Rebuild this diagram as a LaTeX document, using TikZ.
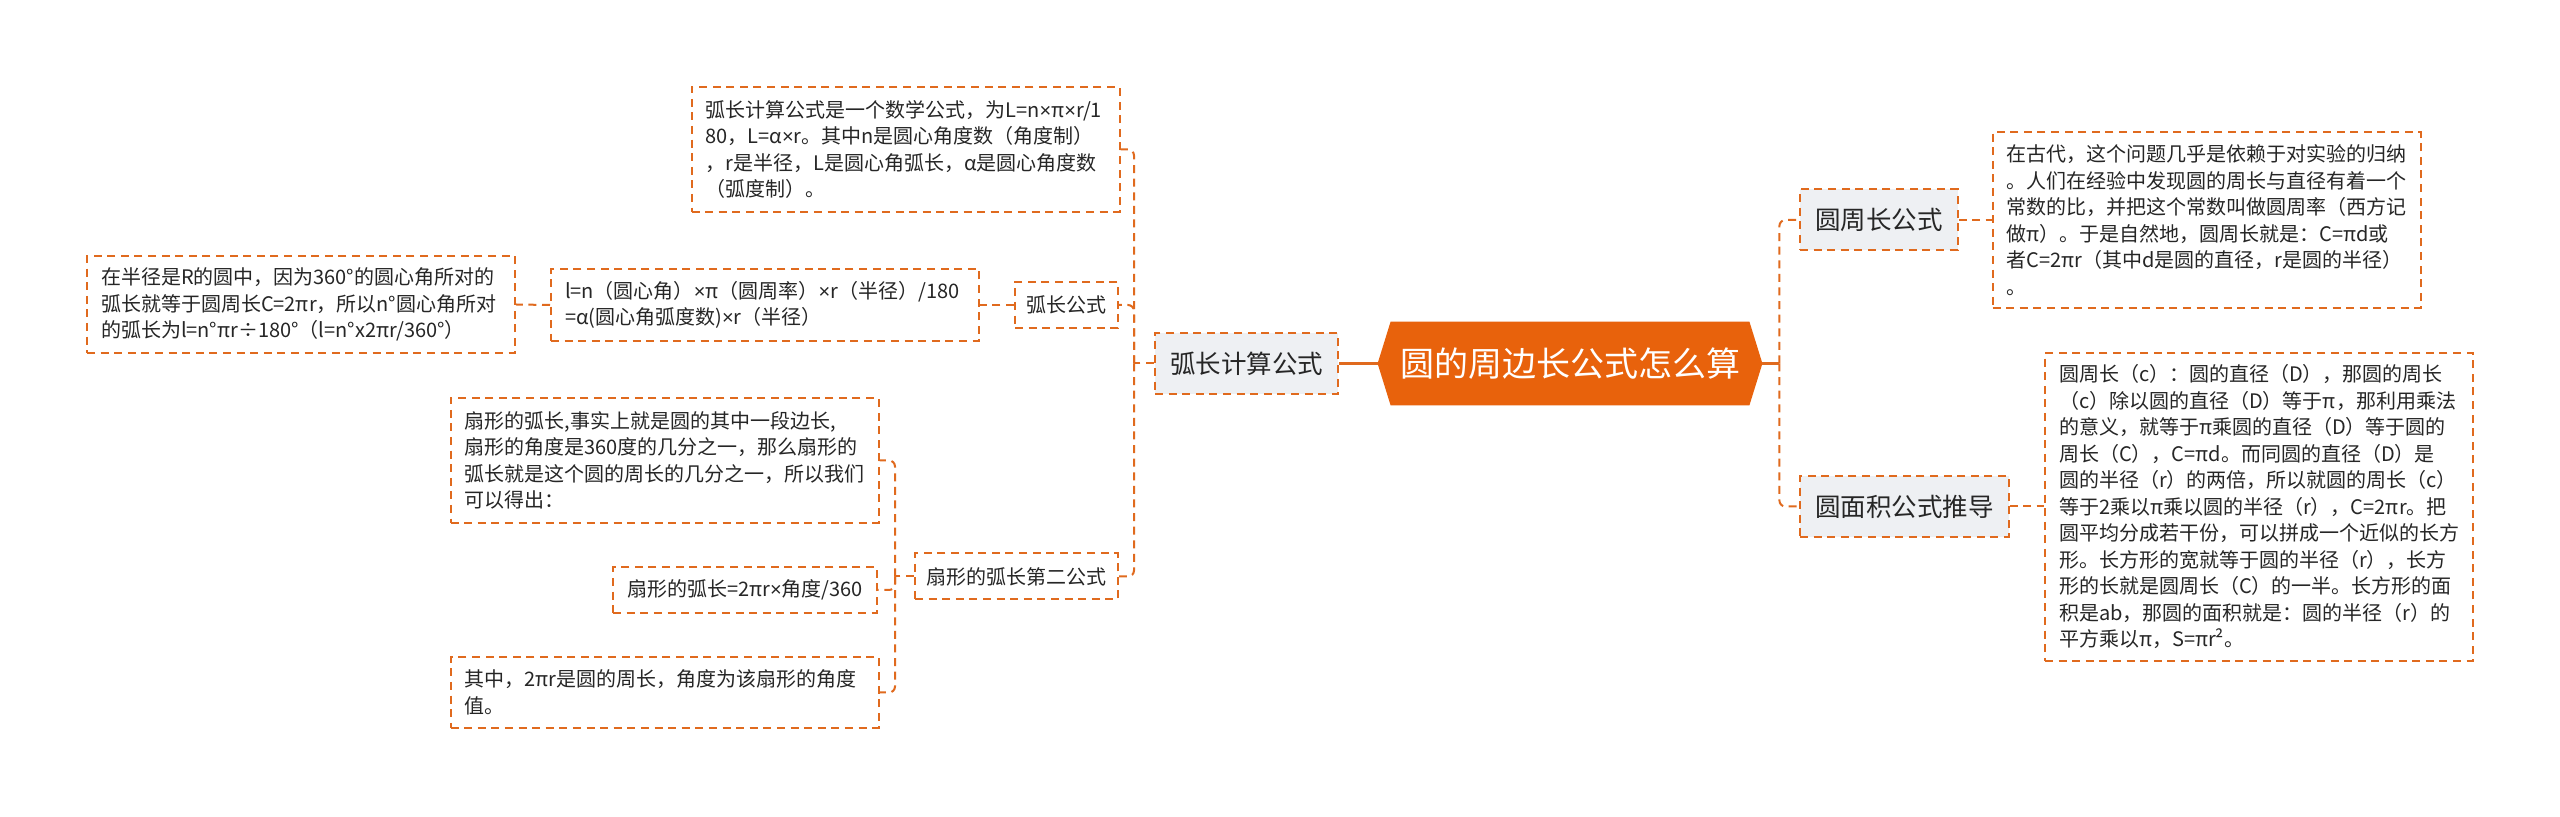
\documentclass[tikz,border=0pt]{standalone}
\usepackage{fontspec}
\setmainfont{Noto Sans CJK SC}
\newfontfamily\latf{Liberation Sans}
\newcommand{\tms}{{\latf ×}}
\usetikzlibrary{calc}
\definecolor{ocol}{HTML}{E06A1E}
\definecolor{rootcol}{HTML}{E8620C}
\definecolor{lonefill}{HTML}{EEF0F3}
\definecolor{tcol}{HTML}{262626}
\tikzset{
  dashbox/.style={draw=ocol, line width=1pt, dash pattern=on 4pt off 2.8pt},
  leaf/.style={dashbox, fill=white, text=tcol, font=\fontsize{10}{13.25}\selectfont,
    align=left, text width=200pt, inner xsep=7pt, inner ysep=0pt},
  leafone/.style={dashbox, fill=white, text=tcol, font=\fontsize{10}{13.25}\selectfont,
    inner xsep=7pt, inner ysep=0pt, minimum height=23pt},
  lvltwo/.style={dashbox, fill=white, text=tcol, font=\fontsize{10}{12}\selectfont,
    inner xsep=5.75pt, inner ysep=0pt, minimum height=23pt},
  lvlone/.style={dashbox, fill=lonefill, text=tcol, font=\fontsize{12.75}{15}\selectfont,
    inner xsep=7.5pt, inner ysep=0pt, minimum height=30.5pt},
  conn/.style={draw=ocol, line width=1pt, dash pattern=on 4pt off 2.8pt, rounded corners=3pt},
  rootlink/.style={draw=ocol, line width=1.5pt},
  rootbox/.style={minimum width=192pt, minimum height=41.5pt, inner sep=0pt},
  roottext/.style={text=white, font=\fontsize{17}{20}\selectfont, inner sep=0pt}
}
\begin{document}
\begin{tikzpicture}[x=0.5pt,y=-0.5pt]
\useasboundingbox[fill=white] (0,0) rectangle (2560,817);

% root
\node[rootbox] (root) at (1570,363.5) {};
\fill[rootcol] (root.west) -- ($(root.north west)+(13,0)$) -- ($(root.north east)+(-13,0)$)
  -- (root.east) -- ($(root.south east)+(-13,0)$) -- ($(root.south west)+(13,0)$) -- cycle;
\node[roottext] (rootlabel) at (root.center) {圆的周边长公式怎么算};

% level 1
\node[lvlone, anchor=east] (hcjs) at (1339,363.5) {弧长计算公式};
\node[lvlone, anchor=west] (yzc) at (1799,220) {圆周长公式};
\node[lvlone, anchor=west] (ymj) at (1799,506.5) {圆面积公式推导};

% level 2
\node[lvltwo, anchor=east] (hcgs) at (1119,305) {弧长公式};
\node[lvltwo, anchor=east] (sxdr) at (1119,576.5) {扇形的弧长第二公式};

% leaves
\node[leaf, minimum height=62.5pt] (tone) at (905.5,149.5) {弧长计算公式是一个数学公式，为L=n\tms π\tms r/1\\80，L=α\tms r。其中n是圆心角度数（角度制）\\，r是半径，L是圆心角弧长，α是圆心角度数\\（弧度制）。};
\node[leaf, minimum height=36pt] (ttwo) at (765,305) {l=n（圆心角）\tms π（圆周率）\tms r（半径）/180\\=α(圆心角弧度数)\tms r（半径）};
\node[leaf, minimum height=48.5pt] (tthree) at (301,304.5) {在半径是R的圆中，因为360°的圆心角所对的\\弧长就等于圆周长C=2πr，所以n°圆心角所对\\的弧长为l=n°πr÷180°（l=n°x2πr/360°）};
\node[leaf, minimum height=62.5pt] (sa) at (664.5,460.5) {扇形的弧长,事实上就是圆的其中一段边长,\\扇形的角度是360度的几分之一，那么扇形的\\弧长就是这个圆的周长的几分之一，所以我们\\可以得出：};
\node[leafone, anchor=east] (sb) at (878,590) {扇形的弧长=2πr\tms 角度/360};
\node[leaf, minimum height=35.5pt] (sc) at (664.5,692.5) {其中，2πr是圆的周长，角度为该扇形的角度\\值。};
\node[leaf, minimum height=88pt] (rt) at (2206.5,220) {在古代，这个问题几乎是依赖于对实验的归纳\\。人们在经验中发现圆的周长与直径有着一个\\常数的比，并把这个常数叫做圆周率（西方记\\做π）。于是自然地，圆周长就是：C=πd或\\者C=2πr（其中d是圆的直径，r是圆的半径）\\。};
\node[leaf, minimum height=154pt] (rb) at (2259,507) {圆周长（c）：圆的直径（D），那圆的周长\\（c）除以圆的直径（D）等于π，那利用乘法\\的意义，就等于π乘圆的直径（D）等于圆的\\周长（C），C=πd。而同圆的直径（D）是\\圆的半径（r）的两倍，所以就圆的周长（c）\\等于2乘以π乘以圆的半径（r），C=2πr。把\\圆平均分成若干份，可以拼成一个近似的长方\\形。长方形的宽就等于圆的半径（r），长方\\形的长就是圆周长（C）的一半。长方形的面\\积是ab，那圆的面积就是：圆的半径（r）的\\平方乘以π，S=πr²。};

% connectors
\draw[rootlink] (root.west) -- (hcjs.east);
\draw[rootlink] (root.east) -- ++(17,0) coordinate (rspine);
\draw[conn] (rspine) |- (yzc.west);
\draw[conn] (rspine) |- (ymj.west);
\draw[conn] (yzc.east) -- (rt.west);
\draw[conn] (ymj.east) -- (ymj.east -| rb.west);

\draw[conn] (hcjs.west) -- ++(-20,0) coordinate (lspine);
\draw[conn] (lspine) |- (tone.east);
\draw[conn] (lspine) |- (hcgs.east);
\draw[conn] (lspine) |- (sxdr.east);

\draw[conn] (hcgs.west) -- (ttwo.east);
\draw[conn] (ttwo.west) -- (tthree.east);

\draw[conn] (sxdr.west) -- ++(-19,0) coordinate (sspine);
\draw[conn] (sspine) |- (sa.east);
\draw[conn] (sspine) |- (sb.east);
\draw[conn] (sspine) |- (sc.east);
\end{tikzpicture}
\end{document}
